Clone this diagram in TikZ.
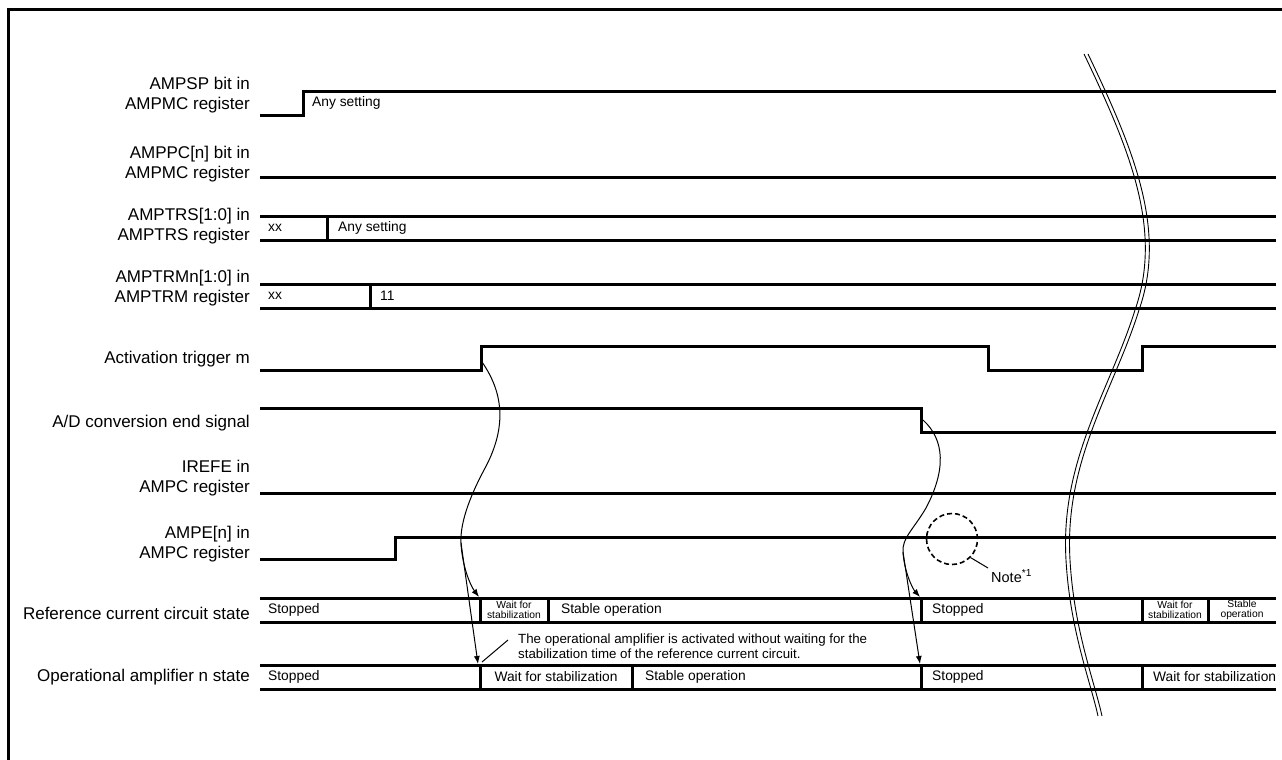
\documentclass[tikz,border=0pt]{standalone}
\usepackage{fontspec}
\setmainfont{Liberation Sans}
\usetikzlibrary{arrows.meta}
\begin{document}
\begin{tikzpicture}[x=1pt,y=-1pt,
  sig/.style={line width=3pt},
  thinl/.style={line width=1pt},
  arr/.style={line width=1pt,-{Latex[length=8pt,width=6pt]}},
  lbl/.style={anchor=east,align=right,inner sep=0pt,font=\fontsize{17}{20}\selectfont},
  txt/.style={anchor=west,inner sep=0pt,font=\fontsize{13.8}{15}\selectfont},
  small/.style={align=center,inner sep=0pt,font=\fontsize{10.3}{10.5}\selectfont},
  brk/.style={line width=0.9pt},
]
\useasboundingbox (0,0) rectangle (1282,760);
\draw[line width=3pt] (8,760) -- (8,10) -- (1282,10);

% labels
\node[lbl] (l1) at (250,95.5) {AMPSP bit in\\AMPMC register};
\node[lbl] (l2) at (250,164.5) {AMPPC[n] bit in\\AMPMC register};
\node[lbl] (l3) at (250,226.5) {AMPTRS[1:0] in\\AMPTRS register};
\node[lbl] (l4) at (250,288.5) {AMPTRMn[1:0] in\\AMPTRM register};
\node[lbl] (l5) at (250,359.5) {Activation trigger m};
\node[lbl] (l6) at (250,423.5) {A/D conversion end signal};
\node[lbl] (l7) at (250,478.5) {IREFE in\\AMPC register};
\node[lbl] (l8) at (250,544.5) {AMPE[n] in\\AMPC register};
\node[lbl] (l9) at (250,613.5) {Reference current circuit state};
\node[lbl] (l10) at (250,677.5) {Operational amplifier n state};

% signals
\draw[sig] (260,115) -- (303,115) -- (303,91) -- (1276,91);
\node[txt] (t1) at (312,103) {Any setting};
\draw[sig] (260,177) -- (1276,177);
\draw[sig] (260,216) -- (1276,216);
\draw[sig] (260,240) -- (1276,240);
\draw[sig] (327,216) -- (327,240);
\node[txt] (t2) at (268,228) {xx};
\node[txt] (t3) at (338,228) {Any setting};
\draw[sig] (260,284) -- (1276,284);
\draw[sig] (260,308) -- (1276,308);
\draw[sig] (370,284) -- (370,308);
\node[txt] (t4) at (268,296) {xx};
\node[txt] (t5) at (380,296) {11};
\draw[sig] (260,370) -- (481,370) -- (481,346) -- (988,346) -- (988,370) -- (1142,370) -- (1142,346) -- (1276,346);
\draw[sig] (260,408) -- (921,408) -- (921,432) -- (1276,432);
\draw[sig] (260,493) -- (1276,493);
\draw[sig] (260,559) -- (395,559) -- (395,537) -- (1276,537);

% reference current circuit state
\draw[sig] (260,598) -- (1276,598);
\draw[sig] (260,622) -- (1276,622);
\foreach \xx in {480,548,921,1142,1208} \draw[sig] (\xx,598) -- (\xx,622);
\node[txt] (r1) at (268,610) {Stopped};
\node[small] (r2) at (514,610) {Wait for\\stabilization};
\node[txt] (r3) at (561,610) {Stable operation};
\node[txt] (r4) at (932,610) {Stopped};
\node[small] (r5) at (1175,610) {Wait for\\stabilization};
\node[small] (r6) at (1242,610) {Stable\\operation};

% operational amplifier n state
\draw[sig] (260,665) -- (1276,665);
\draw[sig] (260,689) -- (1276,689);
\foreach \xx in {480,632,921,1142} \draw[sig] (\xx,665) -- (\xx,689);
\node[txt] (o1) at (268,677) {Stopped};
\node[txt,anchor=center] (o2) at (556,677) {Wait for stabilization};
\node[txt] (o3) at (645,677) {Stable operation};
\node[txt] (o4) at (932,677) {Stopped};
\node[txt] (o5) at (1153,677) {Wait for stabilization};

% annotation
\node[txt,align=left,font=\fontsize{13.3}{15}\selectfont] (ann) at (518,646) {The operational amplifier is activated without waiting for the\\stabilization time of the reference current circuit.};
\coordinate (annA) at (508,640);
\coordinate (annB) at (482,662);
\draw[thinl] (annA) -- (annB);

% note
\node[circle,draw,dash pattern=on 5pt off 3pt,line width=1.6pt,minimum size=51pt,inner sep=0pt] (nc) at (952,539) {};
\node[txt,font=\fontsize{14.5}{16}\selectfont] (note) at (991,576) {Note\textsuperscript{*1}};
\coordinate (noteA) at (988,568);
\draw[thinl] (nc.-45) -- (noteA);

% causal arrows
\coordinate (c1s) at (482,362);
\coordinate (c1m) at (461,543);
\coordinate (c1r) at (479,597);
\coordinate (c1o) at (478,664);
\draw[arr] (c1s) .. controls (505,395) and (506,430) .. (484,470) .. controls (468,500) and (460,525) .. (c1m) .. controls (462,565) and (470,585) .. (c1r);
\draw[arr] (c1m) -- (c1o);
\coordinate (c2s) at (923,420);
\coordinate (c2m) at (903,552);
\coordinate (c2r) at (920,597);
\coordinate (c2o) at (920,664);
\draw[arr] (c2s) .. controls (945,440) and (946,470) .. (926,508) .. controls (913,530) and (902,538) .. (c2m) .. controls (904,570) and (912,588) .. (c2r);
\draw[arr] (c2m) -- (c2o);

% break marks
\draw[brk] (1084,54) .. controls (1130,150) and (1163,230) .. (1135,310) .. controls (1110,390) and (1060,460) .. (1066,560) .. controls (1070,630) and (1090,680) .. (1098,716);
\draw[brk,xshift=4pt] (1084,54) .. controls (1130,150) and (1163,230) .. (1135,310) .. controls (1110,390) and (1060,460) .. (1066,560) .. controls (1070,630) and (1090,680) .. (1098,716);
\end{tikzpicture}
\end{document}
